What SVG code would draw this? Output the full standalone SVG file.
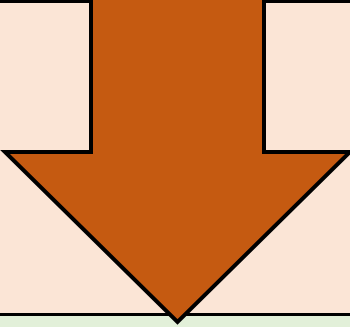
<svg xmlns="http://www.w3.org/2000/svg" width="350" height="327" viewBox="0 0 350 327">
<style>
.bg{fill:#E2F0D9}
.panel{fill:#FBE5D6;stroke:#000;stroke-width:3}
.arrow{fill:#C55A11;stroke:#000;stroke-width:4;stroke-linejoin:miter;stroke-miterlimit:10}
</style>
<rect class="bg" x="0" y="0" width="350" height="327"/>
<g id="panel"><rect class="panel" x="-5" y="1.5" width="360" height="313"/></g>
<g id="arrow"><path class="arrow" d="M91,-5 L264,-5 L264,152 L350,152 L177.5,322 L5,152 L91,152 Z"/></g>
</svg>
